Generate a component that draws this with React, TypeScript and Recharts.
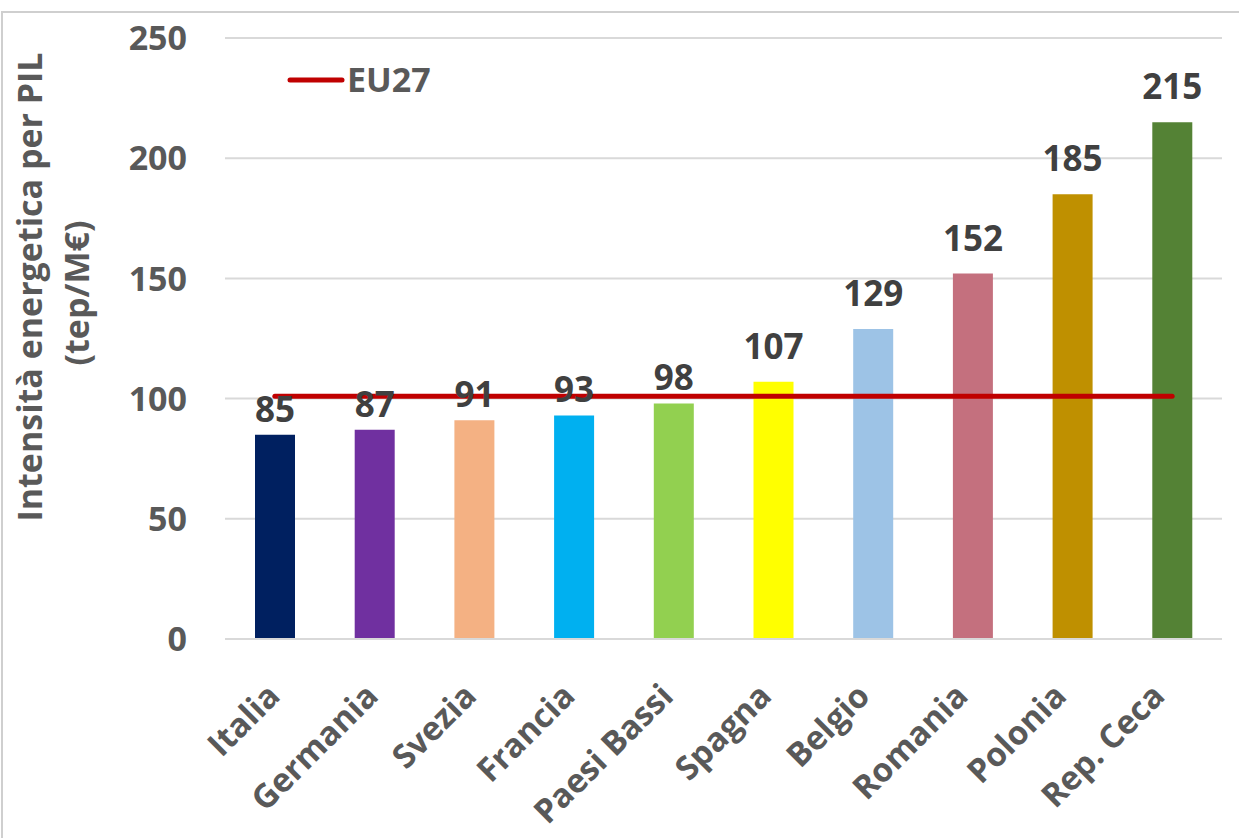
import {
  ComposedChart,
  Bar,
  Line,
  XAxis,
  YAxis,
  CartesianGrid,
  Cell,
  LabelList,
} from "recharts";

const countries = [
  "Italia",
  "Germania",
  "Svezia",
  "Francia",
  "Paesi Bassi",
  "Spagna",
  "Belgio",
  "Romania",
  "Polonia",
  "Rep. Ceca",
];

const intensity = [85, 87, 91, 93, 98, 107, 129, 152, 185, 215];

// EU27 average, the same for every country
const eu27Value = 101;

const yTicks = [0, 50, 100, 150, 200, 250];

const COLORS = [
  "#002060",
  "#7030a0",
  "#f4b183",
  "#00b0f0",
  "#92d050",
  "#ffff00",
  "#9dc3e6",
  "#c4707e",
  "#bf9000",
  "#548235",
];

const FONT = "'Open Sans', 'DejaVu Sans', sans-serif";
const TEXT = "#595959";

const chartData = countries.map((name, i) => ({
  name,
  value: intensity[i],
  eu27: eu27Value,
}));

function YTick({ y, payload }: any) {
  return (
    <text
      x={187}
      y={y}
      dy="0.36em"
      textAnchor="end"
      fill={TEXT}
      fontSize={34}
      fontWeight={700}
      fontFamily={FONT}
    >
      {payload.value}
    </text>
  );
}

function XTick({ x, payload, index }: any) {
  const px = x + 7 - index * 1.4;
  const py = 698;
  return (
    <text
      transform={`translate(${px},${py}) rotate(-45)`}
      textAnchor="end"
      fill={TEXT}
      fontSize={33}
      fontWeight={700}
      fontFamily={FONT}
    >
      {payload.value}
    </text>
  );
}

// labels under the EU27 line sit a bit closer to their bars, as in the original
function ValueLabel({ x, y, width, value }: any) {
  const gap = value < 100 ? 13 : 23;
  return (
    <text
      x={x + width / 2}
      y={y - gap}
      textAnchor="middle"
      fill="#404040"
      fontSize={35}
      fontWeight={700}
      fontFamily={FONT}
    >
      {value}
    </text>
  );
}

function YTitle() {
  return (
    <g fill={TEXT} fontSize={34} fontWeight={700} fontFamily={FONT}>
      <text x={42} y={287} textAnchor="middle" transform="rotate(-90, 42, 287)">
        Intensità energetica per PIL
      </text>
      <text x={89} y={293} textAnchor="middle" transform="rotate(-90, 89, 293)">
        (tep/M€)
      </text>
    </g>
  );
}

export default function App() {
  return (
    <div
      style={{
        position: "absolute",
        left: 0,
        top: 0,
        width: 1239,
        height: 838,
        background: "#fff",
        overflow: "hidden",
      }}
    >
      <div
        style={{
          position: "absolute",
          left: 1,
          top: 11,
          width: 1238,
          height: 827,
          borderTop: "2px solid #cfcfcf",
          borderLeft: "2px solid #cfcfcf",
          boxSizing: "border-box",
        }}
      />
      <ComposedChart
        width={1239}
        height={838}
        data={chartData}
        margin={{ top: 38, right: 17, bottom: 49, left: 0 }}
      >
        <CartesianGrid vertical={false} stroke="#d9d9d9" strokeWidth={2} />
        <XAxis
          dataKey="name"
          height={150}
          interval={0}
          tickLine={false}
          axisLine={{ stroke: "#d9d9d9", strokeWidth: 2 }}
          tick={<XTick />}
        />
        <YAxis
          width={225}
          domain={[0, 250]}
          ticks={yTicks}
          axisLine={false}
          tickLine={false}
          tick={<YTick />}
          label={{ content: <YTitle /> }}
        />
        <Bar dataKey="value" barSize={40} isAnimationActive={false}>
          {chartData.map((_entry, index) => (
            <Cell key={`cell-${index}`} fill={COLORS[index % COLORS.length]} />
          ))}
          <LabelList dataKey="value" content={<ValueLabel />} />
        </Bar>
        <Line
          dataKey="eu27"
          stroke="#c00000"
          strokeWidth={5}
          strokeLinecap="round"
          dot={false}
          activeDot={false}
          isAnimationActive={false}
        />
      </ComposedChart>
      <svg
        style={{ position: "absolute", left: 280, top: 50 }}
        width={240}
        height={64}
      >
        <line
          x1={10}
          y1={30}
          x2={62}
          y2={30}
          stroke="#c00000"
          strokeWidth={5}
          strokeLinecap="round"
        />
        <text
          x={67}
          y={30}
          dy="0.36em"
          fill={TEXT}
          fontSize={34}
          fontWeight={700}
          fontFamily={FONT}
        >
          EU27
        </text>
      </svg>
    </div>
  );
}
